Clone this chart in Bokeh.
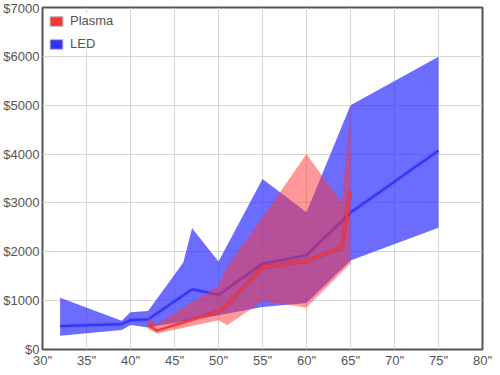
from bokeh.plotting import figure
from bokeh.models import Range1d, FixedTicker, PrintfTickFormatter, Legend, LegendItem
from bokeh.embed import file_html
from bokeh.resources import INLINE

# LED (blue) data
led_top_x = [32, 39, 40, 42, 46, 47, 50, 55, 60, 65, 75]
led_top_y = [1060, 590, 760, 790, 1780, 2480, 1800, 3490, 2810, 5000, 5990]
led_bot_x = [32, 39, 40, 42, 50, 55, 60, 65, 75]
led_bot_y = [280, 400, 500, 450, 700, 870, 950, 1820, 2490]
led_med_x = [32, 39, 40, 42, 47, 50, 55, 60, 65, 75]
led_med_y = [480, 520, 600, 615, 1230, 1120, 1755, 1930, 2800, 4070]

# Plasma (red) data
pl_x = [42, 43, 50, 51, 55, 60, 64, 65]
pl_top = [650, 520, 1300, 1700, 2700, 4000, 3000, 4950]
pl_bot = [430, 330, 600, 500, 990, 860, 1580, 1760]
pl_med = [500, 390, 770, 920, 1680, 1810, 2085, 3250]

x_ticks = [30, 35, 40, 45, 50, 55, 60, 65, 70, 75, 80]
y_ticks = [0, 1000, 2000, 3000, 4000, 5000, 6000, 7000]

FONT = "Liberation Sans"
TXT = "#545454"
RED = "#ff3333"
BLUE = "#3333ff"

p = figure(frame_width=440, frame_height=342, output_backend="svg", toolbar_location=None,
           x_range=Range1d(30, 80), y_range=Range1d(0, 7000),
           min_border_left=0, min_border_right=11, min_border_top=7, min_border_bottom=0)

p.outline_line_color = TXT
p.outline_line_width = 2
p.background_fill_color = "white"
p.border_fill_color = "white"

for ax in (p.xaxis[0], p.yaxis[0]):
    ax.axis_line_color = None
    ax.major_tick_line_color = None
    ax.minor_tick_line_color = None
    ax.major_tick_out = 0
    ax.major_tick_in = 0
    ax.minor_tick_out = 0
    ax.minor_tick_in = 0
    ax.major_label_text_color = TXT
    ax.major_label_text_font = FONT
    ax.major_label_text_font_size = "13px"
p.xaxis.ticker = FixedTicker(ticks=x_ticks)
p.yaxis.ticker = FixedTicker(ticks=y_ticks)
p.xaxis.formatter = PrintfTickFormatter(format='%d"')
p.yaxis.formatter = PrintfTickFormatter(format="$%d")
p.xaxis.major_label_standoff = 3
p.yaxis.major_label_standoff = 3

p.grid.grid_line_color = "#d6d6d6"
p.grid.grid_line_width = 1

# LED band and median
p.patch(led_top_x + led_bot_x[::-1], led_top_y + led_bot_y[::-1],
        fill_color=BLUE, fill_alpha=0.72, line_color=None)
p.line(led_med_x, led_med_y, line_color="black", line_alpha=0.08, line_width=5)
p.line(led_med_x, led_med_y, line_color=BLUE, line_width=2.2)

# Plasma band and median
p.patch(pl_x + pl_x[::-1], pl_top + pl_bot[::-1],
        fill_color=RED, fill_alpha=0.5, line_color=None)
p.line(pl_x, pl_med, line_color="black", line_alpha=0.08, line_width=5)
p.line(pl_x, pl_med, line_color=RED, line_width=2.2)

# legend swatches (not drawn in the plot area: NaN positions)
nan = float("nan")
r_pl = p.rect(x=[nan], y=[nan], width=1, height=1, fill_color=RED,
              line_color="#bbbbbb", line_width=1)
r_led = p.rect(x=[nan], y=[nan], width=1, height=1, fill_color=BLUE,
               line_color="#bbbbbb", line_width=1)
legend = Legend(items=[LegendItem(label="Plasma", renderers=[r_pl]),
                       LegendItem(label="LED", renderers=[r_led])],
                location="top_left")
legend.glyph_width = 16
legend.glyph_height = 12
legend.label_text_font = FONT
legend.label_text_font_size = "13px"
legend.label_text_color = TXT
legend.border_line_color = None
legend.background_fill_alpha = 0.85
legend.margin = 6
legend.padding = 6
legend.spacing = 8
legend.label_standoff = 6
p.add_layout(legend)

open("out.html", "w").write(file_html(p, INLINE))
